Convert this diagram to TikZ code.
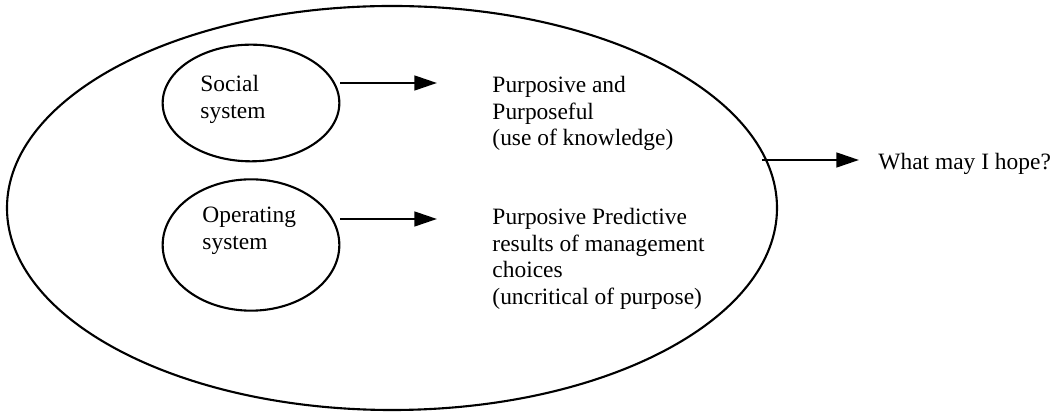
\documentclass[tikz,border=0pt]{standalone}
\usepackage{fontspec}
\setmainfont{Liberation Serif}
\usepackage{tikz}
\usetikzlibrary{
	shapes.geometric,
	positioning,
	arrows.meta
}

\begin{document}
\begin{tikzpicture}[x=0.15mm,y=-0.15mm,
		every node/.style={font=\fontsize{10}{11.3}\selectfont},
		sys/.style={ellipse,draw,line width=0.9pt,minimum width=26.5mm},
		txt/.style={align=left,anchor=north west,inner sep=0pt},
		arr/.style={-{Triangle[length=3.4mm,width=2.2mm]},line width=1.1pt}
	]
		\useasboundingbox (0,0) rectangle (1054,412);
		\draw
			node[ellipse,draw,line width=0.9pt,minimum width=115.5mm,minimum height=60.6mm] (world) at (392,208) {}
			node[sys,minimum height=17.5mm] (social)    at (251,103) {}
			node[sys,minimum height=19.7mm] (operating) at (251,245) {}

			node[txt] (sociallbl)    at (200,75)  {Social\\system}
			node[txt] (operatinglbl) at (202,207) {Operating\\system}
			node[txt] (purposeful)   at (492,76)  {Purposive and\\Purposeful\\(use of knowledge)}
			node[txt] (predictive)   at (492,208) {Purposive Predictive\\results of management\\choices\\(uncritical of purpose)}
			node[anchor=base west,inner sep=0pt] (hope) at (878,170) {What may I hope?}
		;
		\coordinate (socialtip)    at (437,83);
		\coordinate (operatingtip) at (437,219);
		\coordinate (worldfrom)    at (762,160);
		\coordinate (hopetip)      at (859,160);

		\draw[arr] (social.east |- socialtip)       -- (socialtip);
		\draw[arr] (operating.east |- operatingtip) -- (operatingtip);
		\draw[arr] (worldfrom)                      -- (hopetip);
\end{tikzpicture}
\end{document}
